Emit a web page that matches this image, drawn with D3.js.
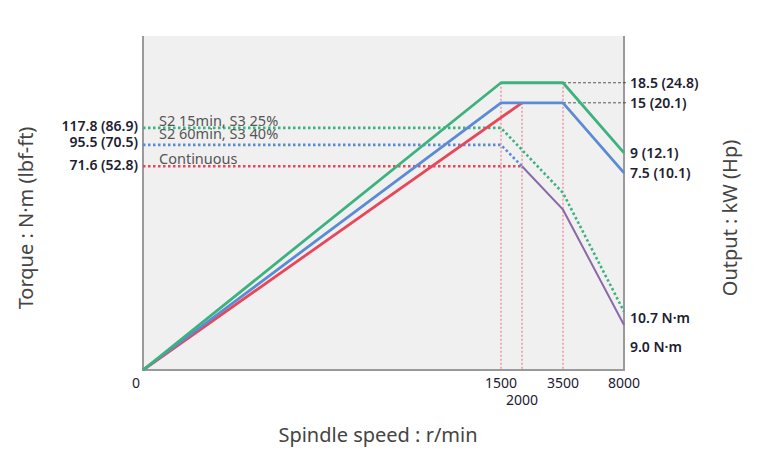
<!DOCTYPE html>
<html><head><meta charset="utf-8">
<script src="https://cdn.jsdelivr.net/npm/d3@7"></script>
<style>body{margin:0;background:#fff}svg{font-family:"Noto Sans",sans-serif}</style>
</head><body><svg id="c" width="758" height="460"></svg>
<script>
// speed breakpoints (r/min); x axis is schematic, piecewise
const speedTicks = [0, 1500, 2000, 3500, 8000];
// vertical values on a schematic 0-100 level scale
const powerGreen = [[0, 0], [1500, 86], [3500, 86], [8000, 65]];
const powerBlue = [[0, 0], [1500, 80], [3500, 80], [8000, 59]];
const powerRed = [[0, 0], [2000, 80]];
const torqueGreen = [[0, 72.5], [1500, 72.5], [3500, 53], [8000, 17.5]];
const torqueBlue = [[0, 67.4], [1500, 67.4], [2000, 61]];
const torqueRed = [[0, 61], [2000, 61]];
const torqueCont = [[2000, 61], [3500, 48], [8000, 13.5]];
const leftLabels = [["117.8 (86.9)", 73], ["95.5 (70.5)", 68.3], ["71.6 (52.8)", 61.3]];
const seriesNames = [["S2 15min, S3 25%", 72.5], ["S2 60min, S3 40%", 68.6], ["Continuous", 61.2]];
const rightLabels = [["18.5 (24.8)", 86], ["15 (20.1)", 80], ["9 (12.1)", 65], ["7.5 (10.1)", 59], ["10.7 N·m", 15.5], ["9.0 N·m", 6.8]];

const svg = d3.select("#c");
const L = 143, R = 624, T = 36, B = 370;
const x = d3.scaleLinear().domain(speedTicks).range([L, 501, 522, 563, R]);
const y = d3.scaleLinear().domain([0, 100]).range([B, B - 334]);
const GREEN = "#3cb27e", BLUE = "#5b8bd4", RED = "#e8475a", PURPLE = "#8a6aa8", INK = "#1c2030";

svg.append("rect").attr("x", L).attr("y", T).attr("width", R - L).attr("height", B - T).attr("fill", "#f0f0f0");
svg.append("path").attr("d", `M${L},${T}V${B}H${R}V${T}`).attr("fill", "none").attr("stroke", "#9a9a9a").attr("stroke-width", 2);

const line = d3.line().x(d => x(d[0])).y(d => y(d[1]));

// red guide lines
[[1500, 86], [2000, 80], [3500, 86]].forEach(([s, v]) => {
    svg.append("line").attr("x1", x(s)).attr("x2", x(s)).attr("y1", y(v)).attr("y2", B)
        .attr("stroke", RED).attr("stroke-width", 0.8).attr("stroke-dasharray", "2,2");
});
// black dashed leaders to right labels
[86, 80].forEach(v => {
    svg.append("line").attr("x1", x(3500)).attr("x2", 628).attr("y1", y(v)).attr("y2", y(v))
        .attr("stroke", "#333").attr("stroke-width", 0.8).attr("stroke-dasharray", "3,2");
});

const dotted = (data, color) => svg.append("path").attr("d", line(data)).attr("fill", "none")
    .attr("stroke", color).attr("stroke-width", 2.6).attr("stroke-dasharray", "2.5,2.5");
dotted(torqueRed, RED);
dotted(torqueBlue, BLUE);
dotted(torqueGreen, GREEN);
svg.append("path").attr("d", line(torqueCont)).attr("fill", "none").attr("stroke", PURPLE).attr("stroke-width", 2);

const solid = (data, color) => svg.append("path").attr("d", line(data)).attr("fill", "none")
    .attr("stroke", color).attr("stroke-width", 2.8).attr("stroke-linejoin", "round");
solid(powerRed, RED);
solid(powerBlue, BLUE);
solid(powerGreen, GREEN);

seriesNames.forEach(([t, v]) => {
    svg.append("text").attr("x", 159).attr("y", y(v) - 2).attr("font-size", 14.5).attr("fill", "#555").text(t);
});
leftLabels.forEach(([t, v]) => {
    svg.append("text").attr("x", 138).attr("y", y(v) + 5).attr("text-anchor", "end").attr("font-size", 14)
        .attr("font-weight", 600).attr("fill", INK).text(t);
});
rightLabels.forEach(([t, v]) => {
    svg.append("text").attr("x", 630).attr("y", y(v) + 5).attr("font-size", 14)
        .attr("font-weight", 600).attr("fill", INK).text(t);
});

// x tick labels
const xt = [["0", 0, 136, 388], ["1500", 1500, 0, 388], ["2000", 2000, 0, 405], ["3500", 3500, 0, 388], ["8000", 8000, 0, 388]];
xt.forEach(([t, s, px, py]) => {
    const xx = px || x(s);
    svg.append("text").attr("x", xx).attr("y", py).attr("text-anchor", "middle")
        .attr("font-size", 14).attr("fill", INK).text(t);
});

svg.append("text").attr("x", 378).attr("y", 442).attr("text-anchor", "middle").attr("font-size", 20).attr("fill", "#444").text("Spindle speed : r/min");
svg.append("text").attr("transform", "translate(33,218) rotate(-90)").attr("text-anchor", "middle").attr("font-size", 20).attr("fill", "#444").text("Torque : N·m (lbf-ft)");
svg.append("text").attr("transform", "translate(737,218) rotate(-90)").attr("text-anchor", "middle").attr("font-size", 20).attr("fill", "#444").text("Output : kW (Hp)");
</script></body></html>
